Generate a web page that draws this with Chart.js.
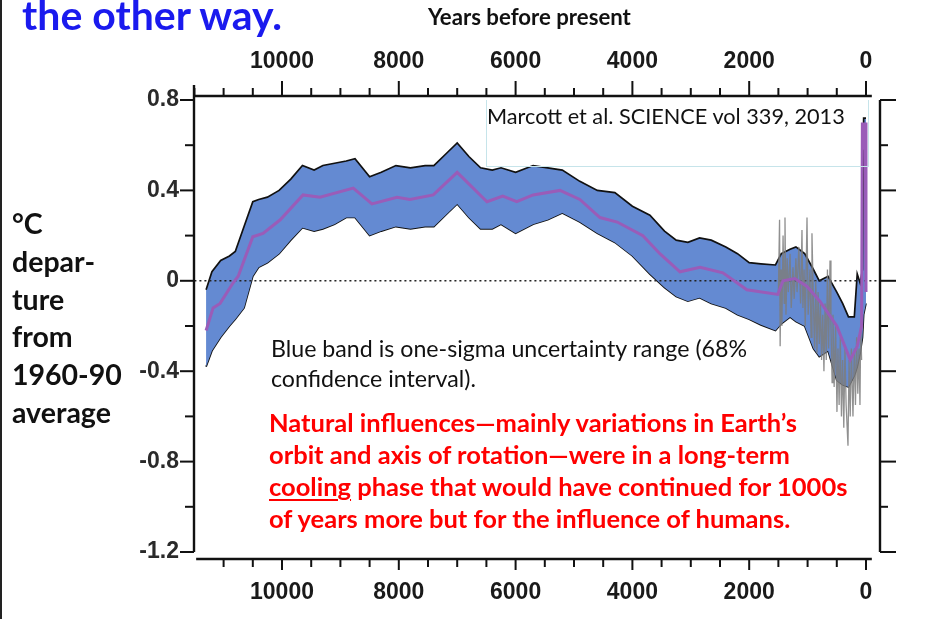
<!DOCTYPE html>
<html>
<head>
<meta charset="utf-8">
<script src="https://cdn.jsdelivr.net/npm/chart.js@4.4.9/dist/chart.umd.min.js"></script>
<style>
  html, body { margin: 0; padding: 0; background: #fff; }
  #wrap { position: relative; width: 943px; height: 619px; overflow: hidden; font-family: Lato, "Open Sans", sans-serif; }
  #wrap canvas { position: absolute; left: 0; top: 0; }
  .t { position: absolute; white-space: nowrap; }
  #edge { position: absolute; left: 0; top: 0; width: 2px; height: 619px; background: #222; }
  #title { left: 22px; top: -10px; font-weight: bold; font-size: 41px; color: #1a1aee; }
  #years { left: 428px; top: 3px; font-weight: bold; font-size: 22.2px; color: #111; }
  #ylab { left: 12px; top: 205px; font-weight: bold; font-size: 28.5px; line-height: 37.8px; color: #111; }
  #cite { position: absolute; left: 486px; top: 100px; width: 383px; height: 67px; border: 1px solid #c6e4ea; border-top: none; box-sizing: border-box; }
  #cite span { position: absolute; left: 0; top: 3px; font-size: 21.7px; color: #111; white-space: nowrap; }
  #note { left: 271px; top: 333px; font-size: 23.2px; line-height: 30px; color: #111; }
  #red { left: 269px; top: 406px; font-weight: bold; font-size: 25.5px; line-height: 32px; color: #f00; }
  #red u { text-decoration-thickness: 2px; text-underline-offset: 3px; }
</style>
</head>
<body>
<div id="wrap">
  <canvas id="chart" width="943" height="619"></canvas>
  <div id="edge"></div>
  <div class="t" id="title">the other way.</div>
  <div class="t" id="years">Years before present</div>
  <div class="t" id="ylab">°C<br>depar-<br>ture<br>from<br>1960-90<br>average</div>
  <div id="cite"><span>Marcott et al. SCIENCE vol 339, 2013</span></div>
  <div class="t" id="note">Blue band is one-sigma uncertainty range (68%<br>confidence interval).</div>
  <div class="t" id="red">Natural influences—mainly variations in Earth’s<br>orbit and axis of rotation—were in a long-term<br><u>cooling</u> phase that would have continued for 1000s<br>of years more but for the influence of humans.</div>
</div>
<script>
// years before present, shared by both edges of the uncertainty band
const bandYears = [11300, 11200, 11050, 10900, 10800, 10650, 10500, 10400, 10250, 10050,
  9850, 9650, 9450, 9300, 9100, 8900, 8750, 8500, 8300, 8050,
  7800, 7550, 7400, 7200, 7000, 6800, 6600, 6400, 6250, 6000,
  5700, 5450, 5200, 4900, 4600, 4300, 4000, 3700, 3450, 3250,
  3050, 2850, 2650, 2400, 2200, 2000, 1800, 1550, 1450, 1300,
  1200, 1050, 900, 800, 650, 500, 400, 300, 200, 150,
  100, 60, 40, 0];
const bandUpper = [-0.04, 0.04, 0.09, 0.11, 0.13, 0.24, 0.35, 0.36, 0.37, 0.40,
  0.45, 0.51, 0.49, 0.51, 0.52, 0.53, 0.54, 0.46, 0.48, 0.51,
  0.50, 0.51, 0.51, 0.56, 0.61, 0.55, 0.50, 0.49, 0.50, 0.48,
  0.51, 0.50, 0.49, 0.44, 0.40, 0.39, 0.33, 0.29, 0.22, 0.18,
  0.17, 0.19, 0.18, 0.15, 0.12, 0.08, 0.075, 0.07, 0.12, 0.14,
  0.15, 0.12, 0.05, 0.0, 0.02, -0.05, -0.10, -0.16, -0.16, 0.03,
  -0.01, 0.05, 0.72, 0.72];
const bandLower = [-0.38, -0.31, -0.25, -0.20, -0.17, -0.12, 0.02, 0.06, 0.08, 0.12,
  0.18, 0.235, 0.22, 0.23, 0.25, 0.28, 0.28, 0.20, 0.22, 0.24,
  0.23, 0.24, 0.24, 0.29, 0.34, 0.28, 0.23, 0.23, 0.25, 0.21,
  0.25, 0.27, 0.30, 0.26, 0.21, 0.17, 0.11, 0.03, -0.03, -0.07,
  -0.09, -0.075, -0.10, -0.12, -0.15, -0.17, -0.195, -0.22, -0.19, -0.16,
  -0.18, -0.20, -0.30, -0.335, -0.31, -0.44, -0.46, -0.47, -0.42, -0.38,
  -0.32, -0.25, -0.15, -0.10];

// mean reconstruction (purple)
const meanYears = [11300, 11180, 11060, 10840, 10750, 10500, 10325, 10030, 9640, 9350,
  8780, 8460, 8030, 7810, 7410, 7000, 6490, 6220, 5980, 5700,
  5240, 4900, 4555, 4260, 3820, 3530, 3185, 2840, 2450, 2040,
  1510, 1420, 1220, 1010, 790, 500, 270, 150, 75, 62,
  48, 36, 24, 12, 0];
const meanTemp = [-0.22, -0.12, -0.10, -0.01, 0.02, 0.195, 0.21, 0.27, 0.38, 0.37,
  0.41, 0.34, 0.37, 0.36, 0.38, 0.48, 0.35, 0.375, 0.35, 0.38,
  0.40, 0.36, 0.28, 0.26, 0.20, 0.12, 0.04, 0.06, 0.035, -0.04,
  -0.06, 0.0, 0.01, -0.025, -0.09, -0.20, -0.35, -0.29, -0.20, 0.70,
  0.62, 0.70, 0.58, 0.70, -0.05];

// high resolution records of the last 1500 years (grey spikes)
const greyYears = [1500, 1480, 1470, 1455, 1440, 1420, 1400, 1387, 1370, 1350,
  1330, 1300, 1280, 1250, 1230, 1200, 1180, 1150, 1120, 1096,
  1080, 1060, 1040, 1010, 990, 960, 940, 925, 900, 880,
  860, 840, 820, 800, 780, 760, 740, 720, 700, 680,
  660, 640, 616, 600, 580, 565, 545, 520, 497, 480,
  460, 440, 420, 400, 380, 360, 340, 308, 290, 270,
  250, 223, 200, 180, 160, 140, 120, 103, 90, 75];
const greyTemp = [-0.05, 0.27, -0.29, 0.05, -0.2, 0.2, -0.1, 0.28, -0.15, 0.1,
  -0.05, 0.12, -0.12, 0.06, -0.08, 0.1, -0.05, 0.15, -0.1, 0.225,
  -0.12, 0.05, -0.2, 0.28, -0.15, 0.05, -0.25, 0.21, -0.1, -0.3,
  0.0, -0.32, -0.05, -0.28, -0.1, -0.35, -0.15, -0.4, -0.1, -0.35,
  0.05, -0.3, 0.09, -0.2, -0.45, -0.15, -0.47, -0.2, -0.58, -0.3,
  -0.55, -0.25, -0.6, -0.35, -0.65, -0.3, -0.55, -0.73, -0.35, -0.6,
  -0.3, -0.6, -0.3, -0.55, -0.25, -0.5, -0.3, -0.55, -0.2, -0.35];

// dotted zero reference
const zeroYears = [11500, -200];
const zeroTemp = [0, 0];

// axes
const xTicks = [10000, 8000, 6000, 4000, 2000, 0];
const xTickLabels = ['10000', '8000', '6000', '4000', '2000', '0'];
const yTicks = [0.8, 0.4, 0, -0.4, -0.8, -1.2];
const yTickLabels = ['0.8', '0.4', '0', '-0.4', '-0.8', '-1.2'];
const X_MIN = -240, X_MAX = 11507;
const Y_MIN = -1.2, Y_MAX = 0.8;

const pts = (xs, ys) => xs.map((x, i) => ({ x, y: ys[i] }));

// axis lines with long and short tick marks, offset like the original figure
const frameAxes = {
  id: 'frameAxes',
  afterDraw(chart) {
    const { ctx, chartArea: a, scales } = chart;
    const sx = scales.x, sy = scales.y;
    ctx.save();
    ctx.strokeStyle = '#111';
    ctx.lineWidth = 2.4;
    ctx.lineCap = 'butt';
    const line = (x1, y1, x2, y2) => { ctx.beginPath(); ctx.moveTo(x1, y1); ctx.lineTo(x2, y2); ctx.stroke(); };

    const topY = a.top - 4, botY = a.bottom + 7;
    line(sx.getPixelForValue(11500), topY, sx.getPixelForValue(-100), topY);
    line(sx.getPixelForValue(11470), botY, sx.getPixelForValue(-100), botY);
    ctx.lineWidth = 2;
    for (let v = 11500; v >= 0; v -= 500) {
      const px = sx.getPixelForValue(v);
      const major = v % 2000 === 0;
      line(px, topY, px, topY - (major ? 15 : 8));
      if (v <= 11000) line(px, botY, px, botY + (major ? 11 : 8));
    }

    ctx.lineWidth = 2.4;
    line(a.left, topY - 11, a.left, sy.getPixelForValue(-1.2));
    line(a.right, sy.getPixelForValue(0.8), a.right, sy.getPixelForValue(-1.2));
    ctx.lineWidth = 2;
    for (let i = 0; i <= 10; i++) {
      const v = 0.8 - i * 0.2;
      const py = sy.getPixelForValue(v);
      const major = i % 2 === 0;
      line(a.left, py, a.left - (major ? 14 : 9), py);
      line(a.right, py, a.right + (major ? 16 : 8), py);
    }
    ctx.restore();
  }
};

const tickFont = { family: '"Liberation Sans", Arial, sans-serif', weight: 'bold', size: 23 };

new Chart(document.getElementById('chart'), {
  type: 'line',
  data: {
    datasets: [
      { data: pts(meanYears, meanTemp), borderColor: '#9a5cb8', borderWidth: 3, fill: false },
      { data: pts(greyYears, greyTemp), borderColor: 'rgba(125,125,125,0.85)', borderWidth: 1.3, fill: false },
      { data: pts(zeroYears, zeroTemp), borderColor: '#222', borderWidth: 1.6, borderDash: [2, 3], fill: false },
      { data: pts(bandYears, bandUpper), borderColor: '#111', borderWidth: 1.7, fill: '+1', backgroundColor: '#648ad2' },
      { data: pts(bandYears, bandLower), borderColor: '#111', borderWidth: 1.7, fill: false }
    ]
  },
  options: {
    responsive: false,
    animation: false,
    layout: { padding: 0 },
    elements: { point: { radius: 0 }, line: { tension: 0 } },
    plugins: { legend: { display: false }, tooltip: { enabled: false } },
    scales: {
      x: {
        type: 'linear', position: 'bottom', reverse: true, min: X_MIN, max: X_MAX,
        afterFit: s => { s.height = 67; },
        afterBuildTicks: s => { s.ticks = xTicks.map(value => ({ value })); },
        grid: { display: false, drawTicks: false }, border: { display: false },
        ticks: { font: tickFont, color: '#1a1a1a', padding: 27, maxRotation: 0, autoSkip: false,
          callback: v => xTickLabels[xTicks.indexOf(v)] }
      },
      x2: {
        type: 'linear', position: 'top', reverse: true, min: X_MIN, max: X_MAX,
        afterFit: s => { s.height = 100; },
        afterBuildTicks: s => { s.ticks = xTicks.map(value => ({ value })); },
        grid: { display: false, drawTicks: false }, border: { display: false },
        ticks: { font: tickFont, color: '#1a1a1a', padding: 25, maxRotation: 0, autoSkip: false,
          callback: v => xTickLabels[xTicks.indexOf(v)] }
      },
      y: {
        position: 'left', min: Y_MIN, max: Y_MAX,
        afterFit: s => { s.width = 194; },
        afterBuildTicks: s => { s.ticks = yTicks.map(value => ({ value })); },
        grid: { display: false, drawTicks: false }, border: { display: false },
        ticks: { font: { family: '"Liberation Sans", Arial, sans-serif', weight: 'bold', size: 23 }, color: '#2a2a2a', padding: 15,
          callback: v => yTickLabels[yTicks.indexOf(v)] }
      },
      y2: {
        position: 'right', min: Y_MIN, max: Y_MAX,
        afterFit: s => { s.width = 63; },
        grid: { display: false, drawTicks: false }, border: { display: false },
        ticks: { display: false }
      }
    }
  },
  plugins: [frameAxes]
});
</script>
</body>
</html>
